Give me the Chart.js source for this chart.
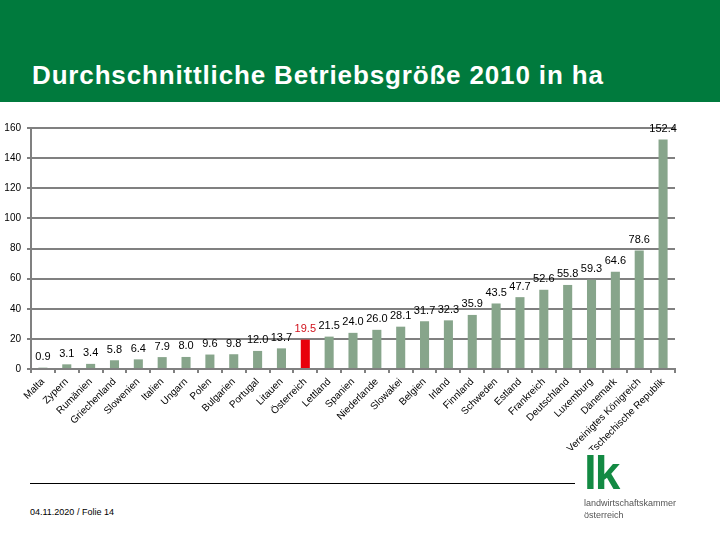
<!DOCTYPE html>
<html lang="de">
<head>
  <meta charset="UTF-8">
  <title>Durchschnittliche Betriebsgröße 2010 in ha</title>
  <script src="https://cdn.jsdelivr.net/npm/chart.js"></script>
  <style>
    body { margin: 0; width: 720px; height: 540px; background: #fff; position: relative; overflow: hidden; font-family: "Liberation Sans", Arial, sans-serif; }
    #header { position: absolute; left: 0; top: 0; width: 720px; height: 102px; background: #007a3d; }
    #header h1 { position: absolute; left: 32px; top: 60px; margin: 0; color: #fff; font-size: 26px; font-weight: bold; letter-spacing: 0.85px; white-space: nowrap; }
    #chartBox { position: absolute; left: 0; top: 110px; width: 720px; height: 340px; }
    #footLine { position: absolute; left: 30px; top: 483px; width: 545px; height: 1px; background: #000; }
    #footText { position: absolute; left: 30px; top: 507px; font-size: 9px; color: #000; }
    #logo { position: absolute; left: 584px; top: 451px; }
    #logo .lk { color: #138a43; font-size: 46px; font-weight: bold; line-height: 44px; letter-spacing: -2px; }
    #logo .name { color: #555; font-size: 9px; line-height: 12px; margin-top: 2px; }
  </style>
</head>
<body>
<div id="header"><h1>Durchschnittliche Betriebsgröße 2010 in ha</h1></div>
<div id="chartBox"><canvas id="chart" width="720" height="340"></canvas></div>
<div id="footLine"></div>
<div id="footText">04.11.2020 / Folie 14</div>
<div id="logo">
  <div class="lk">lk</div>
  <div class="name">landwirtschaftskammer<br>österreich</div>
</div>

<script>
  const countries = ["Malta", "Zypern", "Rumänien", "Griechenland", "Slowenien", "Italien", "Ungarn", "Polen",
    "Bulgarien", "Portugal", "Litauen", "Österreich", "Lettland", "Spanien", "Niederlande", "Slowakei",
    "Belgien", "Irland", "Finnland", "Schweden", "Estland", "Frankreich", "Deutschland", "Luxemburg",
    "Dänemark", "Vereinigtes Königreich", "Tschechische Republik"];
  const hectares = [0.9, 3.1, 3.4, 5.8, 6.4, 7.9, 8.0, 9.6, 9.8, 12.0, 13.7, 19.5, 21.5, 24.0, 26.0, 28.1,
    31.7, 32.3, 35.9, 43.5, 47.7, 52.6, 55.8, 59.3, 64.6, 78.6, 152.4];
  const yTicks = [0, 20, 40, 60, 80, 100, 120, 140, 160];
  const highlight = "Österreich";

  const barColors = countries.map(c => c === highlight ? "#e8000b" : "#87a58b");

  // draws the value above each bar
  const valueLabels = {
    id: "valueLabels",
    afterDatasetsDraw(chart) {
      const ctx = chart.ctx;
      const meta = chart.getDatasetMeta(0);
      ctx.save();
      ctx.font = "11px 'Liberation Sans', Arial, sans-serif";
      ctx.textAlign = "center";
      ctx.textBaseline = "bottom";
      meta.data.forEach((bar, i) => {
        ctx.fillStyle = countries[i] === highlight ? "#d0101a" : "#000";
        ctx.fillText(hectares[i].toFixed(1), bar.x, bar.y - 5);
      });
      ctx.restore();
    }
  };

  new Chart(document.getElementById("chart"), {
    type: "bar",
    data: {
      labels: countries,
      datasets: [{
        data: hectares,
        backgroundColor: barColors,
        categoryPercentage: 1,
        barPercentage: 0.38
      }]
    },
    options: {
      responsive: false,
      animation: false,
      layout: { padding: { top: 18, right: 45, left: 0, bottom: 0 } },
      plugins: { legend: { display: false }, tooltip: { enabled: false } },
      scales: {
        x: {
          afterFit(scale) { scale.height = 81; },
          grid: { display: true, drawOnChartArea: false, drawTicks: true, tickLength: 4, color: "#808080", lineWidth: 2, offset: true },
          border: { display: true, color: "#808080", width: 2 },
          ticks: {
            minRotation: 45, maxRotation: 45, autoSkip: false, color: "#000", padding: 3,
            font: { family: "'Liberation Sans', Arial, sans-serif", size: 10 }
          }
        },
        y: {
          min: 0, max: 160,
          afterFit(scale) { scale.width = 31; },
          afterBuildTicks(scale) { scale.ticks = yTicks.map(v => ({ value: v })); },
          grid: { color: "#808080", lineWidth: 2, tickLength: 4 },
          border: { display: true, color: "#808080", width: 2 },
          ticks: {
            color: "#000", padding: 6,
            font: { family: "'Liberation Sans', Arial, sans-serif", size: 10 }
          }
        }
      }
    },
    plugins: [valueLabels]
  });
</script>
</body>
</html>
